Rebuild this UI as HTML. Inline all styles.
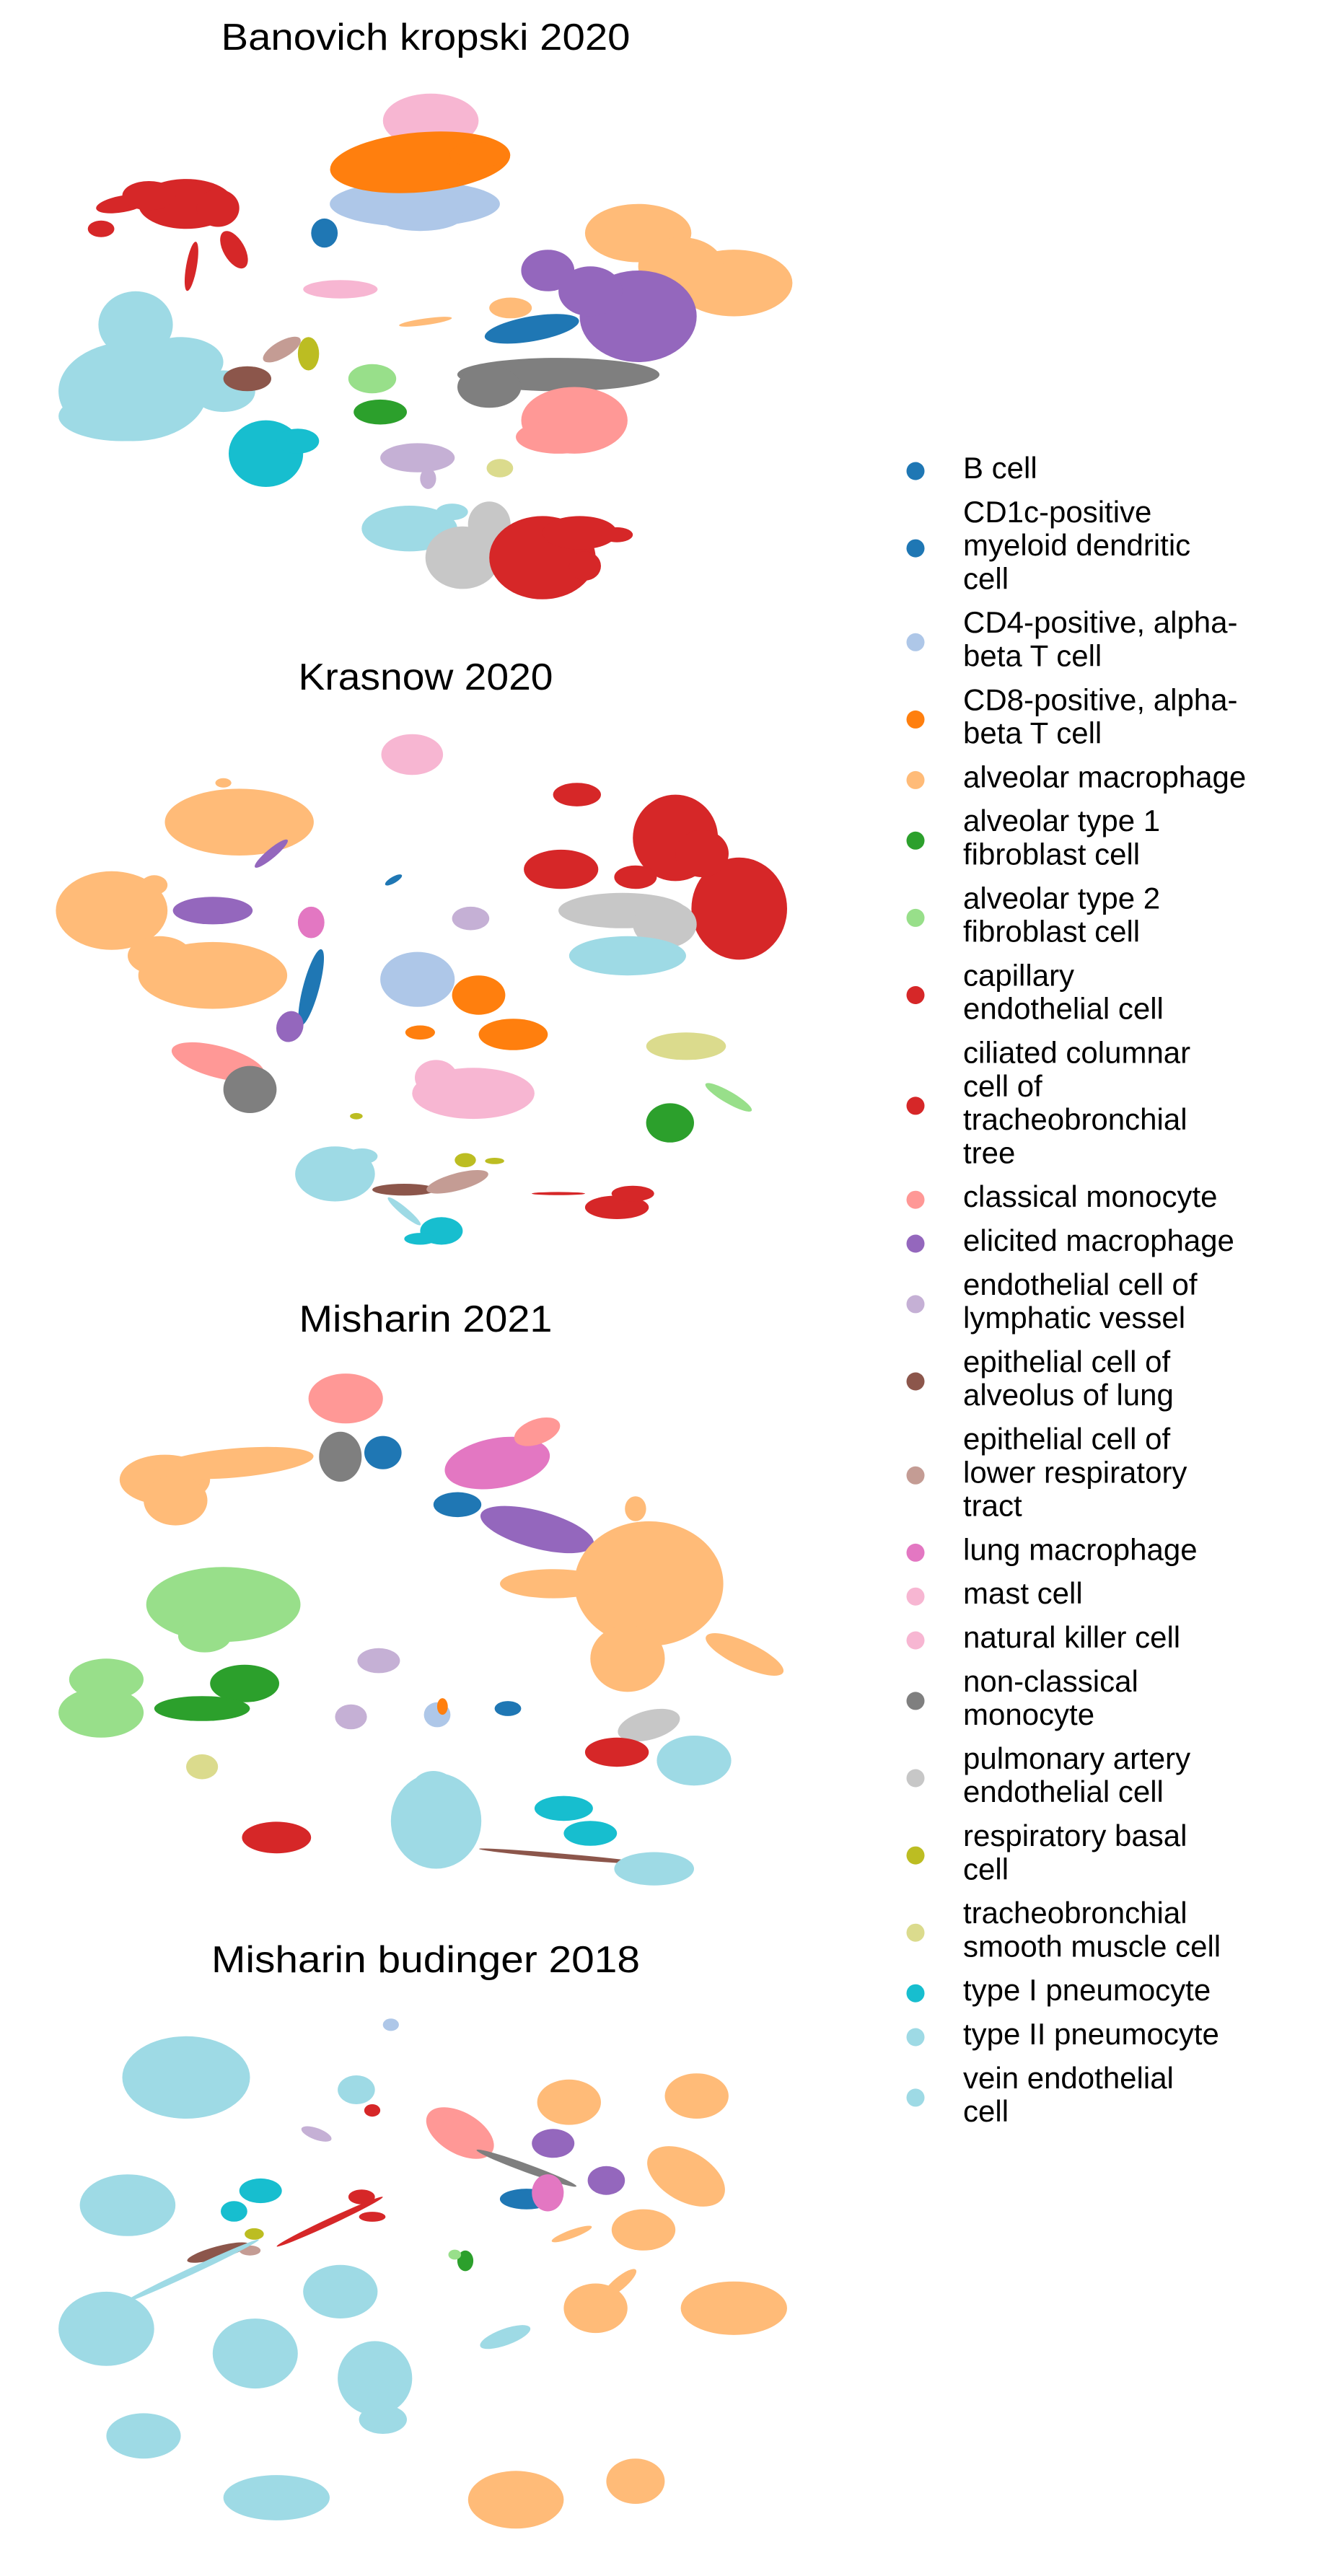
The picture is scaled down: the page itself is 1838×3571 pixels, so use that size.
<!DOCTYPE html>
<html><head><meta charset="utf-8"><style>
html,body{margin:0;padding:0;background:#fff;}
svg{display:block;font-family:"Liberation Sans","DejaVu Sans",sans-serif;}
</style></head><body>
<svg id="fig" width="1838" height="3571" viewBox="0 0 1838 3571" xmlns="http://www.w3.org/2000/svg"></svg>
<script>
// ---- data ----
const cellTypes = ["B cell","CD1c-positive myeloid dendritic cell","CD4-positive, alpha-beta T cell","CD8-positive, alpha-beta T cell","alveolar macrophage","alveolar type 1 fibroblast cell","alveolar type 2 fibroblast cell","capillary endothelial cell","ciliated columnar cell of tracheobronchial tree","classical monocyte","elicited macrophage","endothelial cell of lymphatic vessel","epithelial cell of alveolus of lung","epithelial cell of lower respiratory tract","lung macrophage","mast cell","natural killer cell","non-classical monocyte","pulmonary artery endothelial cell","respiratory basal cell","tracheobronchial smooth muscle cell","type I pneumocyte","type II pneumocyte","vein endothelial cell"];
const legendLines = [["B cell"],["CD1c-positive","myeloid dendritic","cell"],["CD4-positive, alpha-","beta T cell"],["CD8-positive, alpha-","beta T cell"],["alveolar macrophage"],["alveolar type 1","fibroblast cell"],["alveolar type 2","fibroblast cell"],["capillary","endothelial cell"],["ciliated columnar","cell of","tracheobronchial","tree"],["classical monocyte"],["elicited macrophage"],["endothelial cell of","lymphatic vessel"],["epithelial cell of","alveolus of lung"],["epithelial cell of","lower respiratory","tract"],["lung macrophage"],["mast cell"],["natural killer cell"],["non-classical","monocyte"],["pulmonary artery","endothelial cell"],["respiratory basal","cell"],["tracheobronchial","smooth muscle cell"],["type I pneumocyte"],["type II pneumocyte"],["vein endothelial","cell"]];
const palette = ["#1f77b4","#1f77b4","#aec7e8","#ff7f0e","#ffbb78","#2ca02c","#98df8a","#d62728","#d62728","#ff9896","#9467bd","#c5b0d5","#8c564b","#c49c94","#e377c2","#f7b6d2","#f7b6d2","#7f7f7f","#c7c7c7","#bcbd22","#dbdb8d","#17becf","#9edae5","#9edae5"];
const panelTitles = ["Banovich kropski 2020","Krasnow 2020","Misharin 2021","Misharin budinger 2018"];
// clusters: [typeIndex, umapX, umapY, spreadX, spreadY, angle]
const clusters0 = [
[2,780,490,160,55,0],[2,790,520,80,35,0],[15,810,290,90,65,0],[3,790,390,170,72,-5],[3,900,372,55,30,0],
[7,350,490,90,60,0],[7,410,500,40,45,0],[7,230,490,50,20,-10],[7,190,550,25,20,0],[7,280,470,50,35,0],[7,360,640,10,60,10],[7,440,600,20,50,-30],
[0,610,560,25,35,0],[16,640,695,70,22,0],
[22,250,940,140,120,0],[22,255,780,70,80,0],[22,340,870,80,60,0],[22,230,1000,120,60,0],[22,420,940,60,50,0],
[13,530,840,40,20,-30],[12,465,910,45,30,0],[19,580,850,20,40,0],
[21,500,1090,70,80,0],[21,560,1060,40,30,0],
[6,700,910,45,35,0],[5,715,990,50,30,0],
[4,1200,560,100,70,0],[4,1380,680,110,80,0],[4,1280,640,80,70,0],[4,960,740,40,25,0],
[10,1030,650,50,50,0],[10,1200,760,110,110,0],[10,1110,700,60,60,0],
[0,1000,790,90,30,-10],
[17,1050,900,190,40,0],[17,920,930,60,50,0],
[9,1080,1010,100,80,0],[9,1050,1050,80,40,0],
[11,785,1100,70,35,0],[11,805,1150,15,25,0],[20,940,1125,25,22,0],
[23,770,1270,90,55,0],[23,850,1230,30,20,0],
[18,870,1340,70,75,0],[18,920,1260,40,55,0],
[7,1020,1340,100,100,0],[7,1090,1280,70,40,0],[7,1160,1285,30,18,0],[7,1100,1360,30,35,0],
[4,800,773,50,8,-8]
];
const clusters1 = [
[15,775,268,58,52,0],
[4,450,440,140,85,0],[4,420,340,15,12,0],[4,210,665,105,100,0],[4,290,600,25,25,0],[4,400,830,140,85,0],[4,300,780,60,50,0],
[10,400,665,75,35,0],[10,510,520,40,12,-40],[14,585,695,25,40,0],
[0,585,860,15,100,15],[10,545,960,25,40,20],[1,740,587,18,8,-30],
[11,885,685,35,30,0],
[2,785,840,70,70,0],[3,900,880,50,50,0],[3,965,980,65,40,0],[3,790,975,28,18,0],
[15,890,1130,115,65,0],[15,820,1090,40,45,0],
[9,410,1050,90,40,15],[17,470,1120,50,60,0],
[7,1390,660,90,130,0],[7,1270,480,80,110,0],[7,1055,560,70,50,0],[7,1085,370,45,30,0],[7,1195,580,40,30,0],[7,1320,520,50,60,0],
[18,1170,665,120,45,0],[18,1250,700,60,60,0],
[23,1180,780,110,50,0],
[19,670,1188,12,8,0],
[20,1290,1010,75,35,0],
[5,1260,1205,45,50,0],[6,1370,1140,50,15,30],
[22,630,1335,75,70,0],[22,680,1290,30,20,0],
[12,760,1375,60,15,0],[13,860,1355,60,22,-15],
[19,875,1300,20,18,0],[19,930,1302,18,8,0],
[22,760,1430,40,10,40],[21,830,1480,40,35,0],[21,790,1500,30,15,0],
[7,1160,1420,60,30,0],[7,1190,1385,40,20,0],[7,1050,1385,50,4,0]
];
const clusters2 = [
[9,650,275,70,60,0],[17,640,415,40,60,0],[0,720,405,35,40,0],
[4,310,470,85,60,0],[4,440,430,150,35,-5],[4,330,520,60,60,0],
[14,935,430,100,60,-10],[9,1010,355,45,30,-20],
[0,860,530,45,30,0],[10,1010,590,110,45,15],
[4,1220,720,140,150,0],[4,1040,720,100,35,0],[4,1180,900,70,80,0],[4,1400,890,80,30,25],[4,1195,540,20,30,0],
[6,420,770,145,90,0],[6,385,845,50,40,0],[6,200,950,70,50,0],[6,190,1030,80,60,0],
[5,460,960,65,45,0],[5,380,1020,90,30,0],
[11,712,905,40,30,0],[11,660,1040,30,30,0],
[2,822,1035,25,30,0],[3,832,1015,10,20,0],[0,955,1020,25,18,0],
[20,380,1160,30,30,0],[7,520,1330,65,38,0],
[22,820,1290,85,115,0],[22,815,1210,40,40,0],
[12,1060,1375,160,6,5],
[21,1060,1260,55,30,0],[21,1110,1320,50,30,0],
[22,1230,1405,75,40,0],
[18,1220,1060,60,35,-15],[7,1160,1125,60,35,0],[22,1305,1145,70,60,0]
];
const clusters3 = [
[22,350,350,120,100,0],[2,735,222,15,15,0],
[22,670,380,35,35,0],[7,700,430,15,15,0],
[11,595,487,30,14,20],
[9,865,485,70,50,30],
[4,1070,410,60,55,0],[4,1310,395,60,55,0],
[10,1040,510,40,35,0],[10,1140,600,35,35,0],
[17,990,570,100,10,20],
[0,990,645,50,25,0],[14,1030,630,30,45,0],
[4,1290,590,80,60,30],[4,1210,720,60,50,0],[4,1075,730,40,10,-20],
[22,240,660,90,75,0],
[21,490,625,40,30,0],[21,440,675,25,25,0],
[7,620,700,110,8,-25],[7,680,640,25,18,0],[7,700,688,25,12,0],
[12,410,775,60,15,-15],[13,470,770,20,12,0],[19,478,730,18,14,0],
[5,875,795,15,25,0],[6,855,780,12,12,0],
[22,200,960,90,90,0],[22,640,870,70,65,0],[22,480,1020,80,85,0],[22,705,1080,70,90,0],[22,720,1180,45,35,0],[22,270,1220,70,55,0],[22,520,1370,100,55,0],
[22,360,820,140,8,-25],[22,950,980,50,20,-20],
[4,1120,910,60,60,0],[4,1380,910,100,65,0],[4,1165,850,40,15,-40],
[4,970,1375,90,70,0],[4,1195,1330,55,55,0]
];
const allClusters = [clusters0, clusters1, clusters2, clusters3];
const panelOffsetY = [0, 900, 1780, 2680];
const panelUnitsY = [900, 850, 900, 891];
const titleBaseline = [69, 956, 1846, 2734];
const titleWidth = [567, 353, 351, 594];

// ---- axis functions ----
const UNITS = 1560;
function xScale(u){ return u*1150/UNITS; }
function yScale(p, u){ return panelOffsetY[p] + u*panelUnitsY[p]/UNITS; }
function sxScale(u){ return u*1150/UNITS; }
function syScale(p, u){ return u*panelUnitsY[p]/UNITS; }

const NS = "http://www.w3.org/2000/svg";
const svg = document.getElementById('fig');

allClusters.forEach((list, p) => {
  const g = document.createElementNS(NS, 'g');
  
  
  svg.appendChild(g);
  const t = document.createElementNS(NS, 'text');
  
  
  t.setAttribute('x', 590);
  t.setAttribute('y', titleBaseline[p]);
  t.setAttribute('text-anchor', 'middle');
  t.setAttribute('font-size', '52');
  t.setAttribute('textLength', titleWidth[p]);
  t.setAttribute('lengthAdjust', 'spacingAndGlyphs');
  t.textContent = panelTitles[p];
  g.appendChild(t);
  list.forEach(c => {
    const e = document.createElementNS(NS, 'ellipse');
    
    
    const cx = xScale(c[1]), cy = yScale(p, c[2]);
    e.setAttribute('cx', cx.toFixed(1));
    e.setAttribute('cy', cy.toFixed(1));
    e.setAttribute('rx', sxScale(c[3]).toFixed(1));
    e.setAttribute('ry', syScale(p, c[4]).toFixed(1));
    e.setAttribute('transform', 'rotate(' + c[5] + ' ' + cx.toFixed(1) + ' ' + cy.toFixed(1) + ')');
    e.setAttribute('fill', palette[c[0]]);
    g.appendChild(e);
  });
});

// ---- legend ----
const LINE = 46.3, GAP = 14.5;
let y = 648;
const lg = document.createElementNS(NS, 'g');


svg.appendChild(lg);
legendLines.forEach((lines, i) => {
  const item = document.createElementNS(NS, 'g');
  
  
  lg.appendChild(item);
  const midY = y + (lines.length-1)*LINE/2 + 5;
  const m = document.createElementNS(NS, 'circle');
  
  
  m.setAttribute('cx', 1269);
  m.setAttribute('cy', midY.toFixed(1));
  m.setAttribute('r', 12.5);
  m.setAttribute('fill', palette[i]);
  item.appendChild(m);
  lines.forEach((ln, k) => {
    const t = document.createElementNS(NS, 'text');
    
    
    t.setAttribute('x', 1335);
    t.setAttribute('y', (y + k*LINE + 15).toFixed(1));
    t.setAttribute('font-size', '42');
    t.setAttribute('fill', '#000');
    t.textContent = ln;
    item.appendChild(t);
  });
  y += lines.length*LINE + GAP;
});
</script>
</body></html>
